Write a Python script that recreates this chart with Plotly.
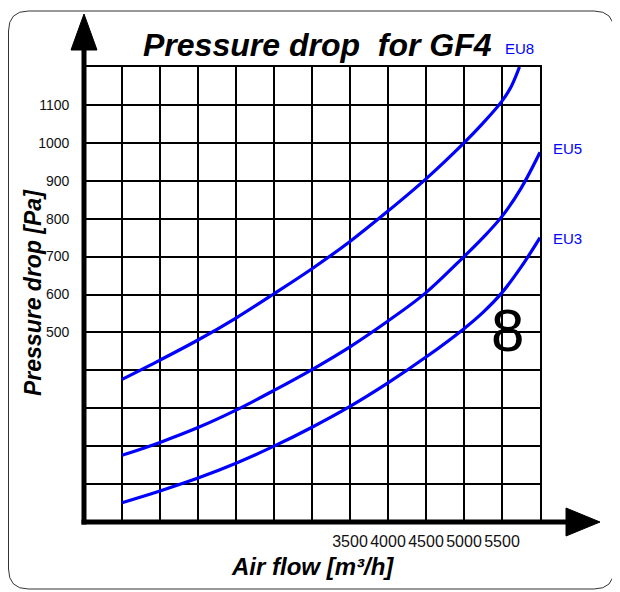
import plotly.graph_objects as go

# ---- data ----
flow_eu8 = [500, 1000, 1500, 2000, 2500, 3000, 3500, 4000, 4500, 5000, 5250, 5500, 5620, 5730]
dp_eu8 = [376, 427, 480, 538, 602, 668, 740, 820, 905, 1000, 1052, 1110, 1148, 1200]

flow_eu5 = [500, 1000, 1500, 2000, 2500, 3000, 3500, 4000, 4500, 5000, 5250, 5500, 5750, 6000]
dp_eu5 = [176, 210, 249, 295, 347, 402, 462, 530, 605, 700, 750, 806, 880, 975]

flow_eu3 = [500, 1000, 1500, 2000, 2500, 3000, 3500, 4000, 4500, 5000, 5250, 5500, 5750, 6000]
dp_eu3 = [51, 82, 116, 155, 200, 250, 305, 367, 435, 510, 553, 605, 672, 750]

series_names = ["EU8", "EU5", "EU3"]

x_tickvals = [500, 1000, 1500, 2000, 2500, 3000, 3500, 4000, 4500, 5000, 5500, 6000]
x_ticktext = ["", "", "", "", "", "", "3500", "4000", "4500", "5000", "5500", ""]
y_tickvals = [100, 200, 300, 400, 500, 600, 700, 800, 900, 1000, 1100, 1200]
y_ticktext = ["", "", "", "", "500", "600", "700", "800", "900", "1000", "1100", ""]

# page body has an 8px margin, so the figure is laid out 8px in from the window edge
OFF = 8
W, H = 612, 584
ML, MR, MT, MB = 76, 80, 59, 70
PW = W - ML - MR
PH = H - MT - MB


def px(x):
    return (x - OFF - ML) / PW


def py(y):
    return (H - MB - (y - OFF)) / PH


BLUE = "#0000ff"
FONT = "Arial, Liberation Sans, sans-serif"

fig = go.Figure()
for name, fx, fy in zip(series_names, [flow_eu8, flow_eu5, flow_eu3], [dp_eu8, dp_eu5, dp_eu3]):
    fig.add_trace(go.Scatter(x=fx, y=fy, mode="lines", name=name,
                             line=dict(color=BLUE, width=3.2, shape="spline", smoothing=1.0),
                             showlegend=False, hoverinfo="skip"))

shapes = []
# rounded border
l, r_, t, b, rad = 8.5, 614, 11, 589, 20
path = (f"M {px(l+rad)} {py(t)} L {px(r_-rad)} {py(t)} Q {px(r_)} {py(t)} {px(r_)} {py(t+rad)} "
        f"L {px(r_)} {py(b-rad)} Q {px(r_)} {py(b)} {px(r_-rad)} {py(b)} "
        f"L {px(l+rad)} {py(b)} Q {px(l)} {py(b)} {px(l)} {py(b-rad)} "
        f"L {px(l)} {py(t+rad)} Q {px(l)} {py(t)} {px(l+rad)} {py(t)} Z")
shapes.append(dict(type="path", xref="paper", yref="paper", path=path,
                   line=dict(color="#333333", width=1), layer="below"))
# y axis thick line + arrow
shapes.append(dict(type="line", xref="paper", yref="paper", x0=px(84), x1=px(84), y0=py(524.5), y1=py(45),
                   line=dict(color="black", width=5)))
shapes.append(dict(type="path", xref="paper", yref="paper",
                   path=f"M {px(84)} {py(14)} L {px(97)} {py(50)} L {px(71)} {py(50)} Z",
                   fillcolor="black", line=dict(color="black", width=1)))
# x axis thick line + arrow
shapes.append(dict(type="line", xref="paper", yref="paper", x0=px(81.5), x1=px(570), y0=py(522), y1=py(522),
                   line=dict(color="black", width=5)))
shapes.append(dict(type="path", xref="paper", yref="paper",
                   path=f"M {px(600)} {py(522)} L {px(566)} {py(508)} L {px(566)} {py(536)} Z",
                   fillcolor="black", line=dict(color="black", width=1)))

annotations = [
    dict(text="<b><i>Pressure drop  for GF4</i></b>", x=px(317), y=py(45), xref="paper", yref="paper",
         showarrow=False, xanchor="center", yanchor="middle", font=dict(family=FONT, size=32, color="black")),
    dict(text="<b><i>Pressure drop [Pa]</i></b>", x=px(33), y=py(293), xref="paper", yref="paper",
         showarrow=False, xanchor="center", yanchor="middle", textangle=-90,
         font=dict(family=FONT, size=23, color="black")),
    dict(text="<b><i>Air flow [m³/h]</i></b>", x=px(312), y=py(566), xref="paper", yref="paper",
         showarrow=False, xanchor="center", yanchor="middle", font=dict(family=FONT, size=24, color="black")),
    dict(text="EU8", x=px(519.5), y=py(49), xref="paper", yref="paper", showarrow=False,
         xanchor="center", yanchor="middle", font=dict(family=FONT, size=15, color=BLUE)),
    dict(text="EU5", x=px(567), y=py(148.5), xref="paper", yref="paper", showarrow=False,
         xanchor="center", yanchor="middle", font=dict(family=FONT, size=15, color=BLUE)),
    dict(text="EU3", x=px(567), y=py(238.5), xref="paper", yref="paper", showarrow=False,
         xanchor="center", yanchor="middle", font=dict(family=FONT, size=15, color=BLUE)),
    dict(text="8", x=px(507.7), y=py(330), xref="paper", yref="paper", showarrow=False,
         xanchor="center", yanchor="middle", font=dict(family=FONT, size=60, color="black")),
]

fig.update_layout(
    width=W, height=H,
    margin=dict(l=ML, r=MR, t=MT, b=MB, pad=0),
    paper_bgcolor="white", plot_bgcolor="white",
    shapes=shapes, annotations=annotations,
    xaxis=dict(range=[0, 6000], tickmode="array", tickvals=x_tickvals, ticktext=x_ticktext,
               showgrid=True, gridcolor="black", gridwidth=1.6, zeroline=False,
               showline=True, mirror=True, linecolor="black", linewidth=1.6,
               ticks="", ticklabelstandoff=4,
               tickfont=dict(family=FONT, size=16, color="#111111"), fixedrange=True),
    yaxis=dict(range=[0, 1200], tickmode="array", tickvals=y_tickvals, ticktext=y_ticktext,
               showgrid=True, gridcolor="black", gridwidth=1.6, zeroline=False,
               showline=True, mirror=True, linecolor="black", linewidth=1.6,
               ticks="", ticklabelstandoff=10,
               tickfont=dict(family=FONT, size=14, color="#111111"), fixedrange=True),
)

fig.write_html("out.html")
